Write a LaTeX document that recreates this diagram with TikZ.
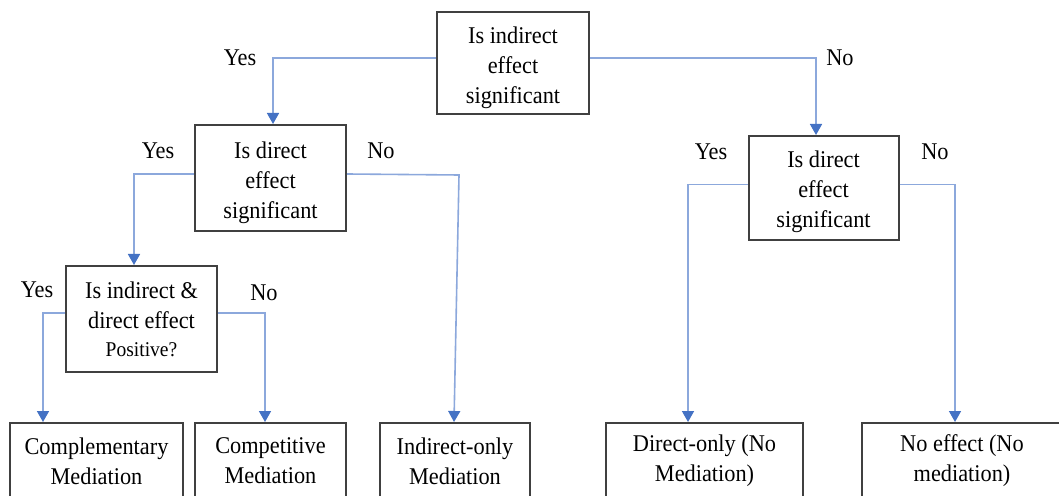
\documentclass[tikz,border=0pt]{standalone}
\usepackage{fontspec}
\setmainfont{Liberation Serif}[FakeStretch=0.93]
\usetikzlibrary{arrows.meta}
\definecolor{conncol}{RGB}{140,168,220}
\definecolor{tipcol}{RGB}{68,114,196}
\definecolor{boxcol}{RGB}{64,64,64}
\newcommand\tstrut{\rule{0pt}{13pt}}
\tikzset{
  box/.style={draw=boxcol, line width=1pt, fill=white, align=center,
    inner sep=0pt, font=\fontsize{12}{15}\selectfont},
  conn/.style={draw=conncol, line width=0.8pt,
    -{Triangle[width=6pt,length=5.5pt,color=tipcol]}},
  lbl/.style={font=\fontsize{12}{15}\selectfont, inner sep=0pt}
}
\begin{document}
\begin{tikzpicture}[x=0.5pt,y=-0.5pt]
\useasboundingbox (0,0) rectangle (1059,496);
\clip (0,0) rectangle (1059,496);
\fill[white] (0,0) rectangle (1059,496);

% decision boxes
\node[box, minimum width=76pt, minimum height=51pt] (top) at (513,63) {\tstrut Is indirect\\effect\\significant};
\node[box, minimum width=75.5pt, minimum height=53pt] (b2) at (270.5,178) {\tstrut Is direct\\effect\\significant};
\node[box, minimum width=75pt, minimum height=52pt] (b3) at (823.5,188) {\rule{0pt}{12pt}Is direct\\effect\\significant};
\node[box, minimum width=75.5pt, minimum height=53pt] (b4) at (141.5,319) {Is indirect \&\\direct effect\\[-1pt]{\fontsize{10.5}{13}\selectfont Positive?}};

% outcome boxes
\node[box, minimum width=86.5pt, minimum height=38pt] (comp) at (96.5,461) {Complementary\\Mediation};
\node[box, minimum width=75.5pt, minimum height=38pt] (compet) at (270.5,461) {Competitive\\Mediation};
\node[box, minimum width=75pt, minimum height=38pt] (ind) at (455,461) {Indirect-only\\Mediation};
\node[box, minimum width=98.5pt, minimum height=38pt] (dir) at (704.5,461) {Direct-only (No\\Mediation)};
\node[box, minimum width=100pt, minimum height=38pt] (noeff) at (962,461) {No effect (No\\mediation)};

% connectors
\coordinate (k1) at (459,175);
\draw[conn] ([yshift=2.5pt]top.west) -| ([xshift=1.25pt]b2.north);
\draw[conn] ([yshift=2.5pt]top.east) -| ([xshift=-3.75pt]b3.north);
\draw[conn] ([yshift=2pt]b2.west) -| ([xshift=-3.75pt]b4.north);
\draw[conn] ([yshift=2pt]b2.east) -- (k1) -- ([xshift=-0.5pt]ind.north);
\draw[conn] ([yshift=3pt]b4.west) -| ([xshift=-26.75pt]comp.north);
\draw[conn] ([yshift=3pt]b4.east) -| ([xshift=-2.75pt]compet.north);
\draw[conn] ([yshift=1.75pt]b3.west) -| ([xshift=-8.25pt]dir.north);
\draw[conn] ([yshift=1.75pt]b3.east) -| ([xshift=-3.5pt]noeff.north);

% labels
\node[lbl] (y1) at (240,58) {Yes};
\node[lbl] (n1) at (840,58) {No};
\node[lbl] (y2) at (158,151) {Yes};
\node[lbl] (n2) at (381,151) {No};
\node[lbl] (y3) at (37,290) {Yes};
\node[lbl] (n3) at (264,293) {No};
\node[lbl] (y4) at (711,152) {Yes};
\node[lbl] (n4) at (935,152) {No};
\end{tikzpicture}
\end{document}
